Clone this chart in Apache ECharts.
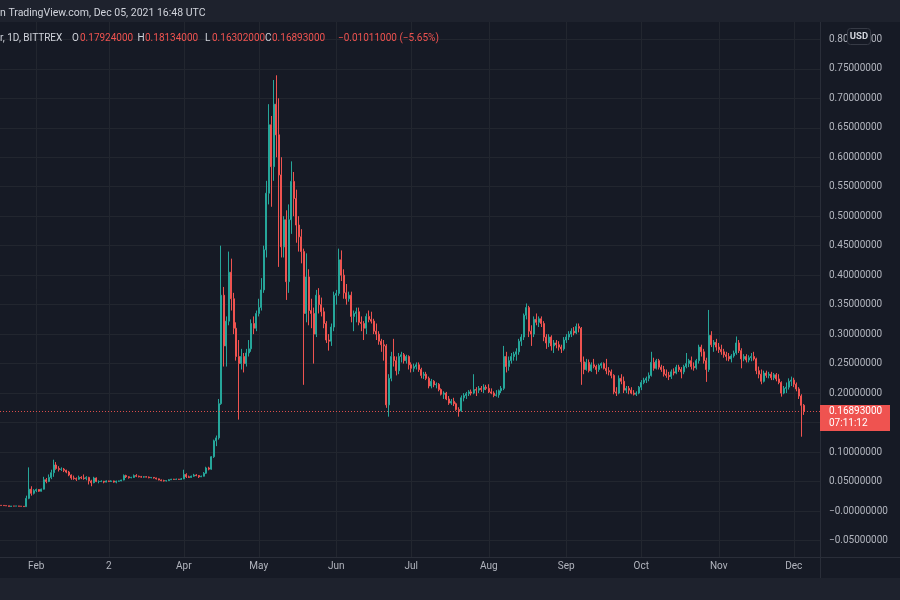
<!DOCTYPE html>
<html>
<head>
<meta charset="utf-8">
<script src="https://cdn.jsdelivr.net/npm/echarts@6/dist/echarts.min.js"></script>
<style>
html,body{margin:0;padding:0;background:#161a25;}
#chart{width:900px;height:600px;}
</style>
</head>
<body>
<div id="chart"></div>
<script>
// ---------- DATA (daily candles, 2021-01-18 .. 2021-12-05, BITTREX DOGE/USD) ----------
const startDate = '2021-01-18';
const emptyDaysRight = 6;

const open = [
  0.0096,0.0095,0.0091,0.0088,0.0078,0.0084,0.0083,0.0085,0.0081,0.0080,0.0074,0.0215,0.0370,0.0300,
  0.0345,0.0365,0.0335,0.0370,0.0530,0.0500,0.0570,0.0650,0.0780,0.0720,0.0705,0.0710,0.0690,0.0660,0.0610,0.0560,0.0550,0.0540,0.0570,0.0560,0.0550,0.0570,0.0510,0.0480,0.0560,0.0500,0.0500,0.0505,
  0.0490,0.0510,0.0500,0.0510,0.0490,0.0505,0.0510,0.0525,0.0600,0.0580,0.0565,0.0570,0.0600,0.0590,0.0580,0.0575,0.0580,0.0575,0.0565,0.0570,0.0560,0.0545,0.0525,0.0515,0.0510,0.0515,0.0530,0.0540,0.0535,0.0540,0.0535,
  0.0545,0.0620,0.0580,0.0570,0.0590,0.0610,0.0600,0.0580,0.0590,0.0640,0.0730,0.0710,0.0920,0.1190,0.1240,0.1820,0.3660,0.2800,0.3220,0.4050,0.3600,0.3100,0.2620,0.2500,0.2620,0.2500,0.2680,0.2750,0.3180,0.3100,
  0.3350,0.3450,0.3750,0.4430,0.5390,0.6550,0.5840,0.6900,0.6380,0.5700,0.4480,0.4940,0.3890,0.4940,0.5590,0.5300,0.4850,0.4650,0.4400,0.3350,0.3970,0.3400,0.3350,0.3000,0.3660,0.3500,0.3380,0.3180,0.2900,0.2880,0.3120,
  0.3660,0.3690,0.4260,0.4000,0.3700,0.3600,0.3660,0.3300,0.3350,0.3380,0.3200,0.3180,0.3100,0.3300,0.3250,0.3220,0.3050,0.3000,0.2880,0.2820,0.2800,0.1800,0.2250,0.2620,0.2550,0.2380,0.2620,0.2650,0.2550,0.2620,
  0.2480,0.2420,0.2450,0.2480,0.2400,0.2300,0.2320,0.2250,0.2120,0.2200,0.2140,0.2150,0.2060,0.1980,0.2000,0.1900,0.1830,0.1860,0.1820,0.1720,0.1700,0.1920,0.1960,0.1990,0.2020,0.2000,0.2060,0.2050,0.2080,0.2060,0.2100,
  0.2080,0.2020,0.2000,0.1960,0.1970,0.2040,0.2080,0.2620,0.2450,0.2550,0.2620,0.2660,0.2700,0.2880,0.2950,0.3320,0.3450,0.3050,0.3000,0.3250,0.3200,0.3260,0.3180,0.2950,0.2850,0.2950,0.2800,0.2850,0.2820,0.2780,0.2750,
  0.2900,0.2950,0.3000,0.3050,0.3020,0.3130,0.3100,0.2530,0.2400,0.2520,0.2380,0.2480,0.2450,0.2400,0.2470,0.2500,0.2420,0.2380,0.2360,0.2300,0.2020,0.2000,0.2250,0.2200,0.2050,0.2080,0.2050,0.2000,0.1980,0.2000,
  0.2100,0.2180,0.2220,0.2250,0.2300,0.2520,0.2420,0.2550,0.2440,0.2400,0.2320,0.2300,0.2280,0.2360,0.2340,0.2440,0.2400,0.2360,0.2450,0.2500,0.2550,0.2450,0.2430,0.2550,0.2780,0.2700,0.2550,0.2400,0.2980,0.2820,0.2860,
  0.2780,0.2740,0.2700,0.2650,0.2620,0.2580,0.2630,0.2680,0.2850,0.2720,0.2580,0.2620,0.2560,0.2600,0.2620,0.2580,0.2380,0.2320,0.2200,0.2340,0.2300,0.2320,0.2260,0.2310,0.2240,0.2180,0.2000,0.2080,0.2100,0.2200,
  0.2220,0.2150,0.2070,0.1950,0.17924
];
const high = [
  0.0099,0.0097,0.0092,0.0089,0.0086,0.0086,0.0087,0.0087,0.0083,0.0081,0.0260,0.0740,0.0420,0.0370,
  0.0380,0.0370,0.0380,0.0580,0.0560,0.0620,0.0700,0.0870,0.0830,0.0760,0.0740,0.0730,0.0700,0.0680,0.0620,0.0600,0.0570,0.0600,0.0590,0.0620,0.0590,0.0580,0.0530,0.0580,0.0570,0.0520,0.0520,0.0510,
  0.0520,0.0515,0.0520,0.0515,0.0515,0.0515,0.0530,0.0620,0.0615,0.0590,0.0580,0.0620,0.0625,0.0600,0.0595,0.0590,0.0590,0.0585,0.0575,0.0575,0.0565,0.0550,0.0535,0.0530,0.0520,0.0540,0.0545,0.0545,0.0550,0.0545,0.0560,
  0.0700,0.0640,0.0600,0.0600,0.0630,0.0625,0.0610,0.0600,0.0660,0.0750,0.0750,0.0930,0.1210,0.1280,0.1900,0.4500,0.3800,0.3300,0.4400,0.4280,0.3700,0.3200,0.2900,0.2750,0.2680,0.2750,0.2900,0.3250,0.3300,0.3400,
  0.3600,0.3950,0.4500,0.5600,0.6900,0.6700,0.7310,0.7390,0.7000,0.6000,0.5000,0.5100,0.5200,0.5930,0.5750,0.5450,0.5000,0.4780,0.4450,0.4370,0.4100,0.3600,0.3450,0.3750,0.3780,0.3620,0.3450,0.3220,0.3000,0.3180,0.3720,
  0.3750,0.4450,0.4420,0.4100,0.3850,0.3720,0.3720,0.3400,0.3450,0.3450,0.3300,0.3220,0.3350,0.3400,0.3380,0.3260,0.3180,0.3050,0.2920,0.2900,0.2830,0.2320,0.2700,0.2920,0.2620,0.2680,0.2700,0.2680,0.2650,0.2640,
  0.2520,0.2500,0.2520,0.2520,0.2430,0.2360,0.2360,0.2280,0.2240,0.2220,0.2180,0.2170,0.2080,0.2030,0.2020,0.1950,0.1900,0.1920,0.1840,0.1760,0.1960,0.2000,0.2020,0.2050,0.2060,0.2320,0.2100,0.2120,0.2120,0.2150,0.2140,
  0.2150,0.2080,0.2030,0.2050,0.2060,0.2120,0.2800,0.2700,0.2620,0.2680,0.2700,0.2760,0.2920,0.3000,0.3350,0.3520,0.3480,0.3150,0.3300,0.3350,0.3300,0.3300,0.3220,0.3000,0.3000,0.2980,0.2900,0.2900,0.2880,0.2820,0.2950,
  0.3000,0.3050,0.3100,0.3120,0.3180,0.3180,0.3120,0.2620,0.2580,0.2570,0.2520,0.2580,0.2480,0.2500,0.2520,0.2520,0.2580,0.2440,0.2400,0.2320,0.2100,0.2300,0.2320,0.2280,0.2120,0.2120,0.2100,0.2050,0.2030,0.2120,
  0.2220,0.2260,0.2280,0.2350,0.2700,0.2600,0.2580,0.2580,0.2480,0.2460,0.2400,0.2360,0.2400,0.2420,0.2480,0.2480,0.2440,0.2480,0.2680,0.2580,0.2620,0.2520,0.2580,0.2820,0.2820,0.2750,0.2600,0.3410,0.3050,0.2900,0.2920,
  0.2850,0.2820,0.2750,0.2700,0.2680,0.2660,0.2720,0.2960,0.2900,0.2760,0.2660,0.2660,0.2640,0.2680,0.2700,0.2600,0.2450,0.2400,0.2380,0.2380,0.2360,0.2360,0.2340,0.2340,0.2320,0.2200,0.2120,0.2180,0.2250,0.2280,
  0.2260,0.2180,0.2100,0.1980,0.18134
];
const low = [
  0.0092,0.0090,0.0084,0.0076,0.0074,0.0081,0.0082,0.0079,0.0077,0.0072,0.0073,0.0200,0.0260,0.0280,
  0.0320,0.0325,0.0330,0.0365,0.0470,0.0490,0.0540,0.0580,0.0700,0.0670,0.0680,0.0660,0.0640,0.0590,0.0530,0.0530,0.0510,0.0530,0.0540,0.0530,0.0520,0.0450,0.0420,0.0470,0.0490,0.0470,0.0490,0.0470,
  0.0485,0.0490,0.0495,0.0480,0.0470,0.0495,0.0505,0.0520,0.0560,0.0550,0.0555,0.0560,0.0575,0.0570,0.0565,0.0565,0.0570,0.0555,0.0555,0.0550,0.0535,0.0520,0.0505,0.0500,0.0500,0.0510,0.0525,0.0530,0.0530,0.0530,0.0530,
  0.0540,0.0560,0.0560,0.0565,0.0580,0.0590,0.0560,0.0575,0.0585,0.0630,0.0690,0.0700,0.0900,0.1100,0.1210,0.1800,0.2450,0.2450,0.3150,0.3400,0.3000,0.2550,0.1550,0.2400,0.2350,0.2450,0.2620,0.2700,0.3000,0.3050,
  0.3300,0.3400,0.3700,0.4300,0.5200,0.5160,0.5600,0.6000,0.4140,0.4300,0.4300,0.3580,0.3700,0.4700,0.5000,0.4550,0.4400,0.4200,0.2140,0.3200,0.3150,0.3100,0.2500,0.2950,0.3350,0.3300,0.3100,0.2850,0.2720,0.2800,0.3050,
  0.3500,0.3650,0.3900,0.3600,0.3500,0.3550,0.3200,0.3050,0.3200,0.3150,0.3050,0.2900,0.3000,0.3200,0.3180,0.3000,0.2900,0.2820,0.2700,0.2550,0.1750,0.1600,0.2200,0.2450,0.2300,0.2320,0.2520,0.2500,0.2500,0.2400,
  0.2350,0.2360,0.2400,0.2360,0.2250,0.2240,0.2220,0.2080,0.2080,0.2100,0.2080,0.2030,0.1960,0.1900,0.1880,0.1800,0.1800,0.1780,0.1700,0.1600,0.1680,0.1860,0.1900,0.1950,0.1960,0.1980,0.1950,0.2000,0.2020,0.2000,0.2050,
  0.2000,0.1980,0.1930,0.1940,0.1920,0.2000,0.2050,0.2350,0.2380,0.2500,0.2550,0.2550,0.2650,0.2800,0.2900,0.3250,0.2950,0.2800,0.2950,0.3150,0.3120,0.3120,0.2880,0.2750,0.2780,0.2720,0.2680,0.2760,0.2720,0.2680,0.2720,
  0.2850,0.2900,0.2950,0.2980,0.3000,0.3030,0.2140,0.2320,0.2380,0.2350,0.2360,0.2420,0.2320,0.2360,0.2420,0.2400,0.2320,0.2300,0.2250,0.1980,0.1950,0.1980,0.2150,0.2000,0.2000,0.1980,0.1980,0.1960,0.1950,0.1980,
  0.2050,0.2150,0.2170,0.2200,0.2280,0.2380,0.2400,0.2400,0.2360,0.2280,0.2260,0.2220,0.2240,0.2300,0.2320,0.2360,0.2250,0.2320,0.2420,0.2440,0.2400,0.2380,0.2400,0.2500,0.2620,0.2500,0.2190,0.2360,0.2780,0.2700,0.2720,
  0.2680,0.2650,0.2600,0.2550,0.2540,0.2520,0.2600,0.2650,0.2680,0.2420,0.2540,0.2520,0.2520,0.2540,0.2550,0.2320,0.2250,0.2150,0.2180,0.2260,0.2250,0.2220,0.2220,0.2200,0.2150,0.1940,0.1980,0.2000,0.2060,0.2120,
  0.2100,0.2030,0.1900,0.1260,0.16302
];
const close = [
  0.0095,0.0091,0.0088,0.0078,0.0084,0.0083,0.0085,0.0081,0.0080,0.0074,0.0215,0.0370,0.0300,0.0345,
  0.0365,0.0335,0.0370,0.0530,0.0500,0.0570,0.0650,0.0780,0.0720,0.0705,0.0710,0.0690,0.0660,0.0610,0.0560,0.0550,0.0540,0.0570,0.0560,0.0550,0.0570,0.0510,0.0480,0.0560,0.0500,0.0500,0.0505,0.0490,
  0.0510,0.0500,0.0510,0.0490,0.0505,0.0510,0.0525,0.0600,0.0580,0.0565,0.0570,0.0600,0.0590,0.0580,0.0575,0.0580,0.0575,0.0565,0.0570,0.0560,0.0545,0.0525,0.0515,0.0510,0.0515,0.0530,0.0540,0.0535,0.0540,0.0535,0.0545,
  0.0620,0.0580,0.0570,0.0590,0.0610,0.0600,0.0580,0.0590,0.0640,0.0730,0.0710,0.0920,0.1190,0.1240,0.1820,0.3660,0.2800,0.3220,0.4050,0.3600,0.3100,0.2620,0.2500,0.2620,0.2500,0.2680,0.2750,0.3180,0.3100,0.3350,
  0.3450,0.3750,0.4430,0.5390,0.6550,0.5840,0.6900,0.6380,0.5700,0.4480,0.4940,0.3890,0.4940,0.5590,0.5300,0.4850,0.4650,0.4400,0.3350,0.3970,0.3400,0.3350,0.3000,0.3660,0.3500,0.3380,0.3180,0.2900,0.2880,0.3120,0.3660,
  0.3690,0.4260,0.4000,0.3700,0.3600,0.3660,0.3300,0.3350,0.3380,0.3200,0.3180,0.3100,0.3300,0.3250,0.3220,0.3050,0.3000,0.2880,0.2820,0.2800,0.1800,0.2250,0.2620,0.2550,0.2380,0.2620,0.2650,0.2550,0.2620,0.2480,
  0.2420,0.2450,0.2480,0.2400,0.2300,0.2320,0.2250,0.2120,0.2200,0.2140,0.2150,0.2060,0.1980,0.2000,0.1900,0.1830,0.1860,0.1820,0.1720,0.1700,0.1920,0.1960,0.1990,0.2020,0.2000,0.2060,0.2050,0.2080,0.2060,0.2100,0.2080,
  0.2020,0.2000,0.1960,0.1970,0.2040,0.2080,0.2620,0.2450,0.2550,0.2620,0.2660,0.2700,0.2880,0.2950,0.3320,0.3450,0.3050,0.3000,0.3250,0.3200,0.3260,0.3180,0.2950,0.2850,0.2950,0.2800,0.2850,0.2820,0.2780,0.2750,0.2900,
  0.2950,0.3000,0.3050,0.3020,0.3130,0.3100,0.2530,0.2400,0.2520,0.2380,0.2480,0.2450,0.2400,0.2470,0.2500,0.2420,0.2380,0.2360,0.2300,0.2020,0.2000,0.2250,0.2200,0.2050,0.2080,0.2050,0.2000,0.1980,0.2000,0.2100,
  0.2180,0.2220,0.2250,0.2300,0.2520,0.2420,0.2550,0.2440,0.2400,0.2320,0.2300,0.2280,0.2360,0.2340,0.2440,0.2400,0.2360,0.2450,0.2500,0.2550,0.2450,0.2430,0.2550,0.2780,0.2700,0.2550,0.2400,0.2980,0.2820,0.2860,0.2780,
  0.2740,0.2700,0.2650,0.2620,0.2580,0.2630,0.2680,0.2850,0.2720,0.2580,0.2620,0.2560,0.2600,0.2620,0.2580,0.2380,0.2320,0.2200,0.2340,0.2300,0.2320,0.2260,0.2310,0.2240,0.2180,0.2000,0.2080,0.2100,0.2200,0.2220,
  0.2150,0.2070,0.1950,0.17924,0.16893
];

// time-axis labels (TradingView shows "2" at the start of March)
const tickDates  = ['2021-02-01','2021-03-02','2021-04-01','2021-05-01','2021-06-01','2021-07-01','2021-08-01','2021-09-01','2021-10-01','2021-11-01','2021-12-01'];
const tickLabels = ['Feb','2','Apr','May','Jun','Jul','Aug','Sep','Oct','Nov','Dec'];

// header texts
const titleText  = 'n TradingView.com, Dec 05, 2021 16:48 UTC';
const symbolText = 'r, 1D, BITTREX';
const ohlcLetters = ['O','H','L','C'];
const ohlcValues  = ['0.17924000','0.18134000','0.16302000','0.16893000'];
const changeText  = '\u22120.01011000 (\u22125.65%)';
const countdownText = '07:11:12';
const currencyText = 'USD';

// ---------- BUILD ----------
const UP = '#26a69a', DOWN = '#ef5350';
const BG = '#161a25', GRID = '#22262f', BORDER = '#2a2e39', TXT = '#b2b5be';
const FONT = 'Roboto, "Noto Sans", sans-serif';

const dates = [];
{
  const d0 = new Date(startDate + 'T00:00:00Z');
  for (let i = 0; i < close.length + emptyDaysRight; i++) {
    const d = new Date(d0.getTime() + i * 86400000);
    dates.push(d.toISOString().slice(0, 10));
  }
}
const tickMap = new Map(tickDates.map((d, i) => [d, tickLabels[i]]));
const candles = close.map((c, i) => [open[i], c, low[i], high[i]]);
const lastClose = close[close.length - 1];

function fmtPrice(v) {
  if (Math.abs(v) < 1e-9) return '\u22120.00000000';
  if (v < 0) return '\u2212' + Math.abs(v).toFixed(8);
  return v.toFixed(8);
}

const chart = echarts.init(document.getElementById('chart'), null, { renderer: 'canvas' });

const headerGraphics = [
  { type: 'rect', z: 100, shape: { x: 0, y: 0, width: 900, height: 22 }, style: { fill: '#1e222d' } },
  { type: 'rect', z: 100, shape: { x: 0, y: 578, width: 900, height: 22 }, style: { fill: '#1e222d' } },
  { type: 'line', z: 101, shape: { x1: 820.5, y1: 22, x2: 820.5, y2: 578 }, style: { stroke: BORDER, lineWidth: 1 } },
  { type: 'line', z: 101, shape: { x1: 0, y1: 557.5, x2: 900, y2: 557.5 }, style: { stroke: BORDER, lineWidth: 1 } },
  { type: 'text', z: 102, x: 0, y: 13, style: { text: titleText, fill: '#d1d4dc', font: '10.5px ' + FONT, verticalAlign: 'middle', align: 'left' } },
  { type: 'text', z: 102, x: 0, y: 38, style: { text: symbolText, fill: '#d1d4dc', font: '10px ' + FONT, verticalAlign: 'middle', align: 'left' } },
  { type: 'rect', z: 102, shape: { x: 847.5, y: 28.5, width: 23, height: 16, r: 3 }, style: { fill: BG, stroke: '#363a45', lineWidth: 1 } },
  { type: 'text', z: 103, x: 859, y: 36.5, style: { text: currencyText, fill: '#d1d4dc', font: 'bold 9.5px ' + FONT, verticalAlign: 'middle', align: 'center' } }
];
const letterX = [72, 137.5, 205, 265];
const valueX  = [80, 145, 212, 272];
ohlcLetters.forEach((l, i) => {
  headerGraphics.push({ type: 'text', z: 102, x: letterX[i], y: 38, style: { text: l, fill: '#d1d4dc', font: '10px ' + FONT, verticalAlign: 'middle' } });
  headerGraphics.push({ type: 'text', z: 102, x: valueX[i], y: 38, style: { text: ohlcValues[i], fill: DOWN, font: '10px ' + FONT, verticalAlign: 'middle' } });
});
headerGraphics.push({ type: 'text', z: 102, x: 338, y: 38, style: { text: changeText, fill: DOWN, font: '10px ' + FONT, verticalAlign: 'middle' } });

const option = {
  backgroundColor: BG,
  animation: false,
  grid: [
    { left: 0, width: 820, top: 9.84, bottom: 59.52, containLabel: false },
    { left: 0, width: 820, top: 22, bottom: 43, containLabel: false }
  ],
  xAxis: [
    { type: 'category', gridIndex: 0, data: dates, boundaryGap: true, show: false },
    {
      type: 'category', gridIndex: 1, data: dates, boundaryGap: true,
      axisLine: { show: false }, axisTick: { show: false },
      axisLabel: {
        interval: (i, v) => tickMap.has(v),
        formatter: v => tickMap.get(v) || '',
        color: TXT, fontSize: 10, fontFamily: FONT, margin: 4
      },
      splitLine: {
        show: true, alignWithLabel: true,
        interval: (i, v) => tickMap.has(v),
        lineStyle: { color: GRID, width: 1 }
      }
    }
  ],
  yAxis: [
    {
      type: 'value', gridIndex: 0, position: 'right', min: -0.05, max: 0.85, interval: 0.05,
      axisLine: { show: false }, axisTick: { show: false },
      axisLabel: {
        color: TXT, fontSize: 10, fontFamily: FONT, margin: 9,
        formatter: v => (v > 0.825 ? '' : fmtPrice(v))
      },
      splitLine: { show: true, lineStyle: { color: GRID, width: 1 } }
    },
    { type: 'value', gridIndex: 1, show: false, min: 0, max: 1, splitLine: { show: false } }
  ],
  series: [{
    type: 'candlestick',
    xAxisIndex: 0, yAxisIndex: 0,
    data: candles,
    barWidth: '72%',
    itemStyle: { color: UP, color0: DOWN, borderColor: UP, borderColor0: DOWN, borderWidth: 1 },
    markLine: {
      silent: true, animation: false, symbol: ['none', 'none'],
      label: { show: false },
      lineStyle: { color: DOWN, type: [1, 2], width: 1, opacity: 0.9 },
      data: [{ yAxis: lastClose }]
    }
  }],
  graphic: headerGraphics
};
chart.setOption(option);

// current-price tag on the price scale, positioned through the y scale
const py = chart.convertToPixel({ xAxisIndex: 0, yAxisIndex: 0 }, [0, lastClose])[1];
const tag = [
  { type: 'rect', z: 110, shape: { x: 820, y: py - 6.5, width: 70, height: 26 }, style: { fill: DOWN } },
  { type: 'text', z: 111, x: 829, y: py, style: { text: fmtPrice(lastClose), fill: '#ffffff', font: '10px ' + FONT, verticalAlign: 'middle' } },
  { type: 'text', z: 111, x: 829, y: py + 12.5, style: { text: countdownText, fill: '#ffffff', font: '10px ' + FONT, verticalAlign: 'middle' } }
];
chart.setOption({ graphic: headerGraphics.concat(tag) });
</script>
</body>
</html>
